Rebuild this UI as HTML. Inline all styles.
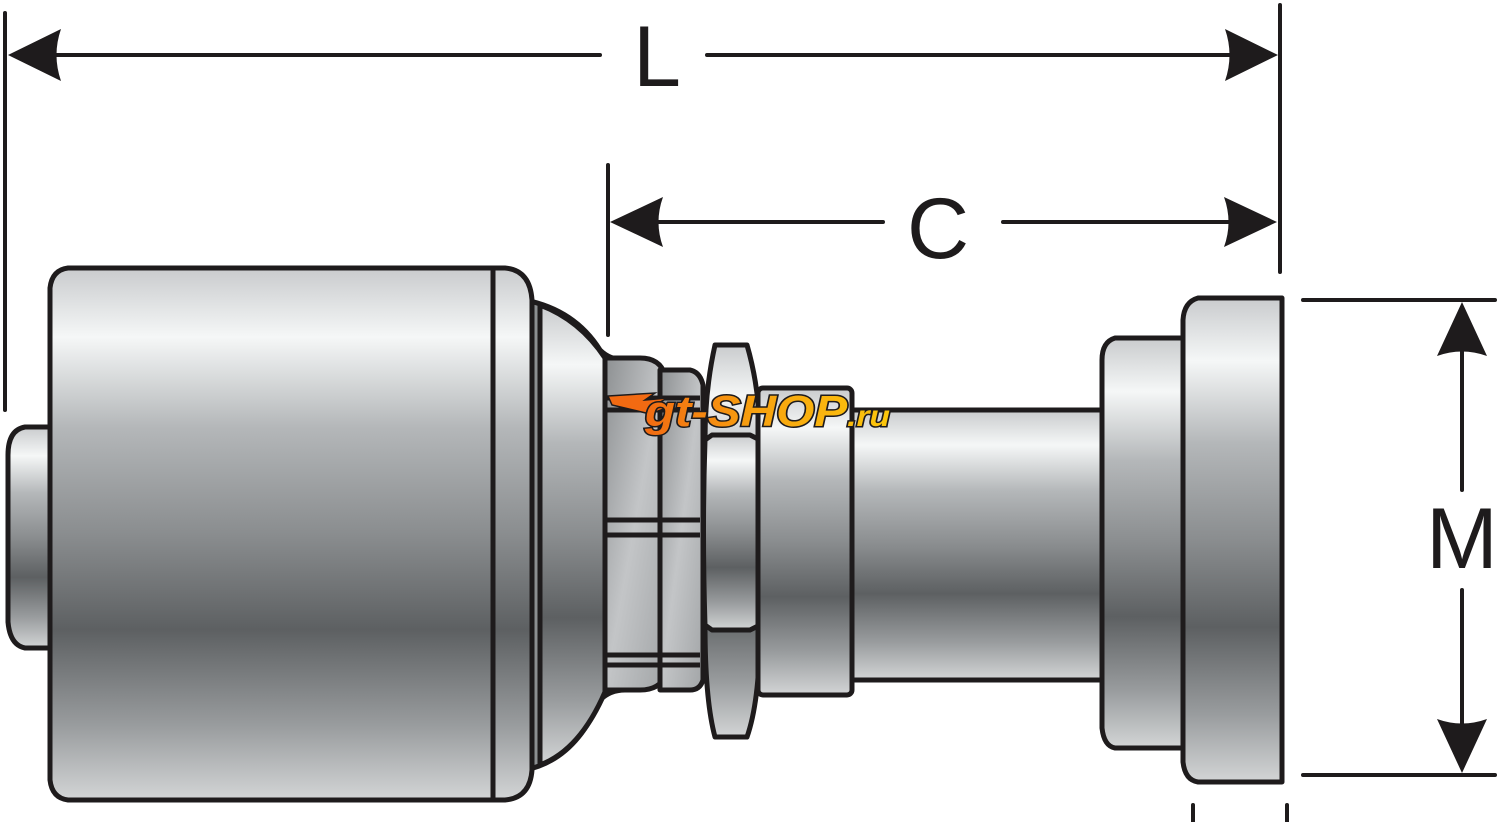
<!DOCTYPE html>
<html><head><meta charset="utf-8"><style>html,body{margin:0;padding:0;background:#fff}svg{display:block}</style></head>
<body>
<svg width="1500" height="822" viewBox="0 0 1500 822" xmlns="http://www.w3.org/2000/svg">
<defs>
<linearGradient id="g" x1="0" y1="0" x2="0" y2="1">
<stop offset="0" stop-color="#c9cbcd"/>
<stop offset="0.13" stop-color="#f5f7f7"/>
<stop offset="0.3" stop-color="#b4b7b9"/>
<stop offset="0.5" stop-color="#8a8d8f"/>
<stop offset="0.68" stop-color="#5d6062"/>
<stop offset="0.86" stop-color="#999c9e"/>
<stop offset="1" stop-color="#d3d5d6"/>
</linearGradient>
<linearGradient id="g2" x1="0" y1="0" x2="1" y2="1">
<stop offset="0" stop-color="#8d9092"/>
<stop offset="0.5" stop-color="#c3c5c7"/>
<stop offset="1" stop-color="#a2a5a7"/>
</linearGradient>
<linearGradient id="wm" x1="0" y1="0" x2="1" y2="0">
<stop offset="0" stop-color="#f26a12"/>
<stop offset="0.45" stop-color="#f7a10f"/>
<stop offset="1" stop-color="#fcc70c"/>
</linearGradient>
</defs>
<g stroke="#1e1b1c" stroke-width="5" stroke-linejoin="round">
<path d="M52 427 L25 427 Q8 430 8 455 L8 622 Q10 645 25 648 L52 648 Z" fill="url(#g)"/>
<path d="M525 300 Q575 310 600 350 Q610 360 625 360 L625 690 Q610 690 600 700 Q575 760 525 770 Z" fill="#8c8f91"/>
<path d="M540 305 Q580 320 605 358 L605 692 Q580 750 540 765 Z" fill="url(#g)"/>
<path d="M68 268 L505 268 Q530 270 532 300 L532 770 Q530 798 505 800 L68 800 Q52 798 50 780 L50 288 Q52 270 68 268 Z" fill="url(#g)"/>
<line x1="493" y1="268" x2="493" y2="800"/>
<path d="M605 358 L640 358 Q660 358 665 375 L665 675 Q660 690 640 690 L605 690 Z" fill="url(#g2)"/>
<path d="M660 370 L690 370 Q700 372 703 385 L703 680 Q700 690 690 690 L660 690 Z" fill="url(#g2)"/>
<line x1="660" y1="375" x2="660" y2="690"/>
<path d="M605 398 L700 398 M605 410 L700 410 M605 520 L700 520 M605 535 L700 535 M605 655 L700 655 M605 665 L700 665" fill="none"/>
<path d="M715 345 L747 345 Q760 390 760 440 L760 625 Q760 700 747 737 L715 737 Q705 700 705 625 L705 440 Q705 390 715 345 Z" fill="url(#g)"/>
<path d="M705 440 L712 435 L750 435 L760 440 Q762 530 760 625 L750 630 L712 630 L705 625 Q702 530 705 440 Z" fill="url(#g)"/>
<rect x="758" y="388" width="94" height="307" rx="5" fill="url(#g)"/>
<rect x="852" y="410" width="252" height="270" fill="url(#g)"/>
<path d="M1185 338 L1115 338 Q1102 342 1102 360 L1102 728 Q1104 746 1115 748 L1185 748 Z" fill="url(#g)"/>
<path d="M1282 298 L1198 298 Q1184 302 1183 320 L1183 762 Q1185 780 1198 782 L1282 782 Z" fill="url(#g)"/>
</g>
<g stroke="#1e1b1c" stroke-width="4" stroke-linecap="round" fill="none">
<line x1="5" y1="13" x2="5" y2="410"/>
<line x1="1280" y1="5" x2="1280" y2="272"/>
<line x1="608" y1="165" x2="608" y2="335"/>
<line x1="40" y1="55" x2="600" y2="55"/>
<line x1="707" y1="55" x2="1250" y2="55"/>
<line x1="640" y1="222" x2="883" y2="222"/>
<line x1="1003" y1="222" x2="1250" y2="222"/>
<line x1="1303" y1="300" x2="1495" y2="300"/>
<line x1="1303" y1="775" x2="1495" y2="775"/>
<line x1="1462" y1="330" x2="1462" y2="490"/>
<line x1="1462" y1="590" x2="1462" y2="750"/>
<line x1="1193" y1="805" x2="1193" y2="822"/>
<line x1="1287" y1="805" x2="1287" y2="822"/>
</g>
<g fill="#1e1b1c">
<path d="M8 55 L61 29 Q52 55 61 81 Z"/>
<path d="M1278 55 L1225 29 Q1234 55 1225 81 Z"/>
<path d="M610 222 L663 197 Q654 222 663 247 Z"/>
<path d="M1277 222 L1224 197 Q1233 222 1224 247 Z"/>
<path d="M1462 302 L1437 356 Q1462 347 1487 356 Z"/>
<path d="M1462 773 L1437 719 Q1462 728 1487 719 Z"/>
</g>
<g font-family="Liberation Sans, sans-serif" fill="#1e1b1c" text-anchor="middle" font-size="86">
<text x="657" y="86">L</text>
<text x="938" y="258">C</text>
<text x="1462" y="568">M</text>
</g>
<g>
<path d="M608 396 L655 393 L645 400 L668 398 L652 406 L672 406 L650 414 L612 405 Z" fill="#f26a12" stroke="#1e1b1c" stroke-width="1.5"/>
<text x="645" y="426" font-family="Liberation Sans, sans-serif" font-weight="bold" font-style="italic" font-size="44" fill="url(#wm)" stroke="#1e1b1c" stroke-width="3" paint-order="stroke" textLength="245" lengthAdjust="spacingAndGlyphs">gt-SHOP<tspan font-size="30">.ru</tspan></text>
</g>
</svg>
</body></html>
